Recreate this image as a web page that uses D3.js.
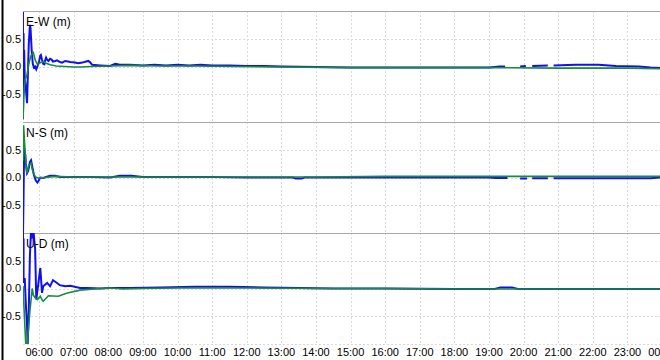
<!DOCTYPE html>
<html lang="en">
<head>
    <meta charset="UTF-8">
    <title>E-W / N-S / U-D</title>
    <style>
        body {
            margin: 0;
            padding: 0;
            background: #fff;
        }

        svg text {
            font-family: "Liberation Sans", Arial, sans-serif;
        }
    </style>
</head>
<body>
<svg id="chart"></svg>

<script src="https://d3js.org/d3.v7.min.js"></script>
<script>
    // Panel titles and y ticks
    var panelTitles = ["E-W (m)", "N-S (m)", "U-D (m)"];
    var yTicks = [0.5, 0.0, -0.5];

    // [time, metres]; null = no solution (gap)
    var ewBlue = [
        ["05:32", 0.98], ["05:32", -0.95], ["05:33", 0.6], ["05:33", -0.5], ["05:34", 0.3],
        ["05:35", -0.2], ["05:37", -0.4], ["05:39", -0.66], ["05:40", -0.3], ["05:42", 0.4],
        ["05:44", 0.75], ["05:45", 0.7], ["05:47", 0.3], ["05:49", 0.05], ["05:51", -0.02],
        ["05:53", 0.0], ["05:55", -0.05], ["05:57", 0.0], ["06:00", 0.1], ["06:02", 0.2],
        ["06:03", 0.21], ["06:05", 0.12], ["06:07", 0.05], ["06:09", 0.04], ["06:10", 0.1],
        ["06:12", 0.16], ["06:14", 0.12], ["06:16", 0.1], ["06:19", 0.14], ["06:22", 0.12],
        ["06:24", 0.09], ["06:28", 0.1], ["06:31", 0.11], ["06:36", 0.08], ["06:40", 0.07],
        ["06:45", 0.1], ["06:50", 0.09], ["06:54", 0.08], ["07:02", 0.07], ["07:08", 0.06],
        ["07:15", 0.07], ["07:25", 0.1], ["07:28", 0.08], ["07:32", 0.03], ["07:46", 0.02],
        ["08:03", 0.01], ["08:12", 0.05], ["08:20", 0.03], ["08:38", 0.03], ["09:00", 0.02],
        ["09:20", 0.03], ["09:40", 0.02], ["10:00", 0.03], ["10:20", 0.02], ["10:40", 0.03],
        ["11:00", 0.02], ["11:30", 0.02], ["12:00", 0.01], ["12:30", 0.01], ["13:00", 0.0],
        ["14:00", -0.01], ["15:00", -0.02], ["16:00", -0.02], ["17:00", -0.02], ["18:00", -0.02],
        ["19:00", -0.02], ["19:19", 0.0], ["19:28", 0.0], ["19:30", null], ["19:54", 0.0],
        ["20:04", 0.01], ["20:06", null], ["20:15", 0.01], ["20:42", 0.02], ["20:44", null],
        ["20:52", 0.02], ["21:30", 0.03], ["22:10", 0.03], ["22:40", 0.01], ["23:20", 0.0],
        ["23:40", -0.02], ["23:59", -0.03]
    ];
    var ewGreen = [
        ["05:32", -0.95], ["05:34", -0.4], ["05:36", -0.23], ["05:39", -0.15], ["05:42", 0.05],
        ["05:46", 0.2], ["05:50", 0.25], ["05:53", 0.12], ["05:57", 0.04], ["06:00", 0.06],
        ["06:07", 0.09], ["06:12", 0.06], ["06:19", 0.03], ["06:30", 0.01], ["06:45", 0.0],
        ["07:00", -0.01], ["07:11", -0.01], ["07:30", 0.0], ["08:00", 0.01], ["08:40", 0.02],
        ["09:30", 0.01], ["10:30", 0.01], ["11:30", 0.0], ["13:00", -0.01], ["15:00", -0.02],
        ["17:00", -0.02], ["19:00", -0.02], ["21:00", -0.03], ["23:00", -0.03], ["23:59", -0.04]
    ];

    var nsBlue = [
        ["05:32", -1.05], ["05:33", -0.3], ["05:34", 0.53], ["05:36", 0.4], ["05:37", 0.25],
        ["05:39", 0.08], ["05:41", 0.12], ["05:44", 0.28], ["05:46", 0.31], ["05:48", 0.2],
        ["05:51", 0.04], ["05:54", -0.05], ["05:57", -0.09], ["05:59", -0.06], ["06:02", 0.0],
        ["06:07", -0.01], ["06:12", 0.01], ["06:19", 0.03], ["06:28", 0.03], ["06:36", 0.01],
        ["06:54", 0.01], ["07:30", 0.01], ["08:03", 0.0], ["08:20", 0.03], ["08:40", 0.03],
        ["09:00", 0.01], ["10:00", 0.01], ["11:00", 0.01], ["12:00", 0.0], ["13:20", 0.0],
        ["13:25", -0.02], ["13:35", -0.02], ["13:40", 0.0], ["15:00", 0.0], ["17:00", 0.0],
        ["19:00", 0.0], ["19:11", -0.01], ["19:32", -0.01], ["19:34", null], ["19:54", -0.02],
        ["20:06", -0.02], ["20:08", null], ["20:15", -0.015], ["20:42", -0.015], ["20:44", null],
        ["20:52", -0.015], ["22:00", -0.015], ["23:40", -0.015], ["23:59", 0.0]
    ];
    var nsGreen = [
        ["05:32", 0.3], ["05:33", 0.94], ["05:35", 0.58], ["05:37", 0.22], ["05:39", 0.08],
        ["05:42", 0.22], ["05:46", 0.26], ["05:48", 0.15], ["05:51", 0.05], ["05:55", 0.0],
        ["05:58", -0.01], ["06:10", 0.0], ["06:28", 0.02], ["07:00", 0.01], ["08:00", 0.01],
        ["10:00", 0.01], ["12:00", 0.01], ["14:00", 0.01], ["16:00", 0.02], ["18:00", 0.02],
        ["20:00", 0.02], ["22:00", 0.02], ["23:59", 0.02]
    ];

    var udBlue = [
        ["05:32", 1.05], ["05:32", 0.4], ["05:33", 0.9], ["05:33", 0.1], ["05:35", 0.19],
        ["05:37", -0.3], ["05:39", -0.65], ["05:40", -1.05], ["05:42", -0.4], ["05:44", 0.6],
        ["05:46", 1.05], ["05:48", 0.9], ["05:50", 1.05], ["05:53", 0.72], ["05:55", -0.2],
        ["05:58", 0.04], ["06:02", 0.37], ["06:05", -0.08], ["06:07", 0.04], ["06:14", 0.1],
        ["06:19", 0.04], ["06:24", 0.15], ["06:31", 0.1], ["06:36", 0.06], ["06:45", 0.04],
        ["06:54", 0.05], ["07:11", 0.01], ["07:23", 0.01], ["07:46", 0.0], ["08:03", 0.01],
        ["08:40", 0.01], ["09:30", 0.02], ["10:30", 0.03], ["11:30", 0.03], ["12:30", 0.02],
        ["13:30", 0.01], ["14:30", 0.0], ["16:00", 0.0], ["18:00", -0.01], ["19:10", -0.01],
        ["19:20", 0.02], ["19:40", 0.02], ["19:50", -0.01], ["21:00", -0.01], ["23:59", -0.01]
    ];
    var udGreen = [
        ["05:32", 0.05], ["05:34", -0.4], ["05:37", -1.05], ["05:39", -1.05], ["05:44", -0.4],
        ["05:48", 0.0], ["05:50", -0.12], ["05:53", -0.17], ["05:57", -0.2], ["06:02", -0.14],
        ["06:05", -0.2], ["06:07", -0.23], ["06:16", -0.13], ["06:33", -0.14], ["06:49", -0.08],
        ["07:11", -0.03], ["07:46", 0.0], ["08:03", 0.01], ["08:25", -0.01], ["09:00", 0.0],
        ["10:00", 0.01], ["12:00", 0.01], ["14:00", 0.0], ["16:00", 0.0], ["18:00", -0.01],
        ["20:00", -0.01], ["22:00", -0.01], ["23:59", -0.01]
    ];

    var panels = [
        {title: panelTitles[0], blue: ewBlue, green: ewGreen},
        {title: panelTitles[1], blue: nsBlue, green: nsGreen},
        {title: panelTitles[2], blue: udBlue, green: udGreen}
    ];

    // Dimensions
    var width = 660, height = 360;
    var plotLeft = 23, plotRight = 662, plotTop = 11, panelH = 111;

    var svg = d3.select("#chart")
        .attr("width", width)
        .attr("height", height);

    var parseTime = d3.timeParse("%H:%M");
    var start = parseTime("05:32");
    var end = new Date(1900, 0, 2, 0, 0);

    var x = d3.scaleTime()
        .domain([start, end])
        .range([plotLeft, plotRight]);

    var hours = x.ticks(d3.timeHour.every(1));

    panels.forEach(function (p, i) {
        var y0 = plotTop + i * panelH;
        var y = d3.scaleLinear()
            .domain([-1, 1])
            .range([y0 + panelH, y0]);

        var g = svg.append("g");

        svg.append("clipPath")
            .attr("id", "clip" + i)
            .append("rect")
            .attr("x", plotLeft)
            .attr("y", y0)
            .attr("width", width - plotLeft)
            .attr("height", panelH);

        // grid
        g.selectAll(".vgrid").data(hours)
            .enter()
            .append("line")
            .attr("x1", d => Math.round(x(d)) + 0.5)
            .attr("x2", d => Math.round(x(d)) + 0.5)
            .attr("y1", y0)
            .attr("y2", y0 + panelH)
            .attr("stroke", "#d9d9d9")
            .attr("stroke-dasharray", "2,2");

        g.selectAll(".hgrid").data(i === 2 ? yTicks.concat([-1]) : yTicks)
            .enter()
            .append("line")
            .attr("x1", plotLeft)
            .attr("x2", width)
            .attr("y1", d => Math.round(y(d)) + 0.5)
            .attr("y2", d => Math.round(y(d)) + 0.5)
            .attr("stroke", "#d9d9d9")
            .attr("stroke-dasharray", "2,2");

        // panel top border
        g.append("line")
            .attr("x1", plotLeft)
            .attr("x2", width)
            .attr("y1", y0 + 0.5)
            .attr("y2", y0 + 0.5)
            .attr("stroke", "#a8a8a8");

        // y tick labels
        g.selectAll(".ylab").data(yTicks)
            .enter()
            .append("text")
            .attr("x", 21)
            .attr("y", d => y(d))
            .attr("dy", "0.35em")
            .attr("text-anchor", "end")
            .style("font-size", "11px")
            .text(d => d3.format(".1f")(d).replace("−", "-"));

        var line = d3.line()
            .defined(d => d[1] !== null)
            .x(d => x(parseTime(d[0])))
            .y(d => y(d[1]));

        var data = g.append("g").attr("clip-path", "url(#clip" + i + ")");

        data.append("path")
            .datum(p.blue)
            .attr("d", line)
            .attr("fill", "none")
            .attr("stroke", "#1010ee")
            .attr("stroke-width", 2);

        data.append("path")
            .datum(p.green)
            .attr("d", line)
            .attr("fill", "none")
            .attr("stroke", "#1a8a3c")
            .attr("stroke-width", 1.6);

        // title
        g.append("text")
            .attr("x", 26)
            .attr("y", y0 + 15)
            .style("font-size", "12px")
            .text(p.title);
    });

    // x axis labels
    svg.selectAll(".xlab").data(hours)
        .enter()
        .append("text")
        .attr("x", d => x(d))
        .attr("y", 356)
        .attr("text-anchor", "middle")
        .style("font-size", "11px")
        .text(d3.timeFormat("%H:%M"));

    // left frame
    svg.append("line")
        .attr("x1", 2.5)
        .attr("x2", 2.5)
        .attr("y1", 0)
        .attr("y2", height)
        .attr("stroke", "#000")
        .attr("stroke-width", 2);
</script>
</body>
</html>
